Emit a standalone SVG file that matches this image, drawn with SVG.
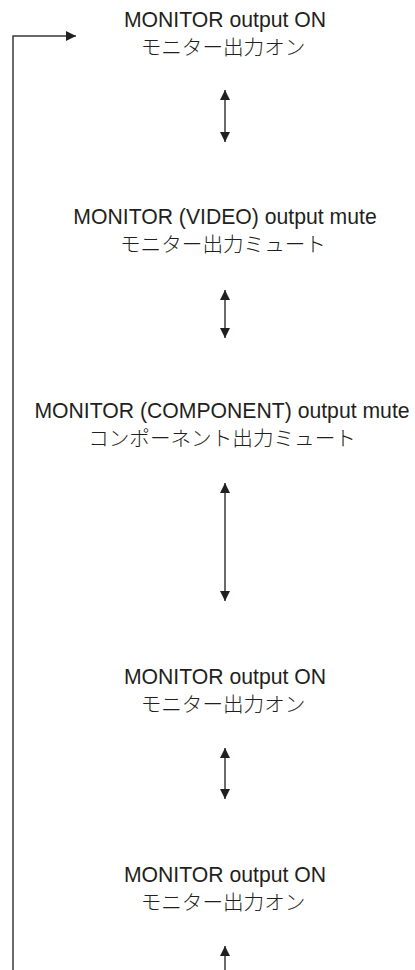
<svg xmlns="http://www.w3.org/2000/svg" width="415" height="970" viewBox="0 0 415 970">
<defs>
<marker id="ah" viewBox="0 0 10 10" refX="10" refY="5" markerWidth="10" markerHeight="10" markerUnits="userSpaceOnUse" orient="auto-start-reverse">
<path d="M0,0 L10,5 L0,10 Z" fill="#231f20"/>
</marker>
<style>
.t{font-family:"Liberation Sans",Arial,sans-serif;font-size:21.2px;fill:#231f20;text-anchor:middle}
.j{font-family:"Noto Sans CJK JP","Noto Sans",sans-serif;font-size:20.6px;fill:#231f20;text-anchor:middle;font-weight:300}
.c{stroke:#3a3a3a;stroke-width:1.5;fill:none}
</style>
</defs>
<rect width="415" height="970" fill="#fff"/>
<g id="n1">
<text class="t" x="225" y="27">MONITOR output ON</text>
<text class="j" x="223" y="55">モニター出力オン</text>
</g>
<g id="n2">
<text class="t" x="225" y="224">MONITOR (VIDEO) output mute</text>
<text class="j" x="223" y="252">モニター出力ミュート</text>
</g>
<g id="n3">
<text class="t" x="222" y="418">MONITOR (COMPONENT) output mute</text>
<text class="j" x="222" y="446">コンポーネント出力ミュート</text>
</g>
<g id="n4">
<text class="t" x="225" y="684">MONITOR output ON</text>
<text class="j" x="223" y="712">モニター出力オン</text>
</g>
<g id="n5">
<text class="t" x="225" y="882">MONITOR output ON</text>
<text class="j" x="223" y="910">モニター出力オン</text>
</g>
<g id="connectors">
<path class="c" d="M225,90 V142" marker-start="url(#ah)" marker-end="url(#ah)"/>
<path class="c" d="M225,290 V338" marker-start="url(#ah)" marker-end="url(#ah)"/>
<path class="c" d="M225,483 V601" marker-start="url(#ah)" marker-end="url(#ah)"/>
<path class="c" d="M225,748 V799" marker-start="url(#ah)" marker-end="url(#ah)"/>
<path class="c" d="M225,946 V975" marker-start="url(#ah)"/>
<path class="c" d="M13,975 V36 H76" marker-end="url(#ah)"/>
</g>
</svg>
